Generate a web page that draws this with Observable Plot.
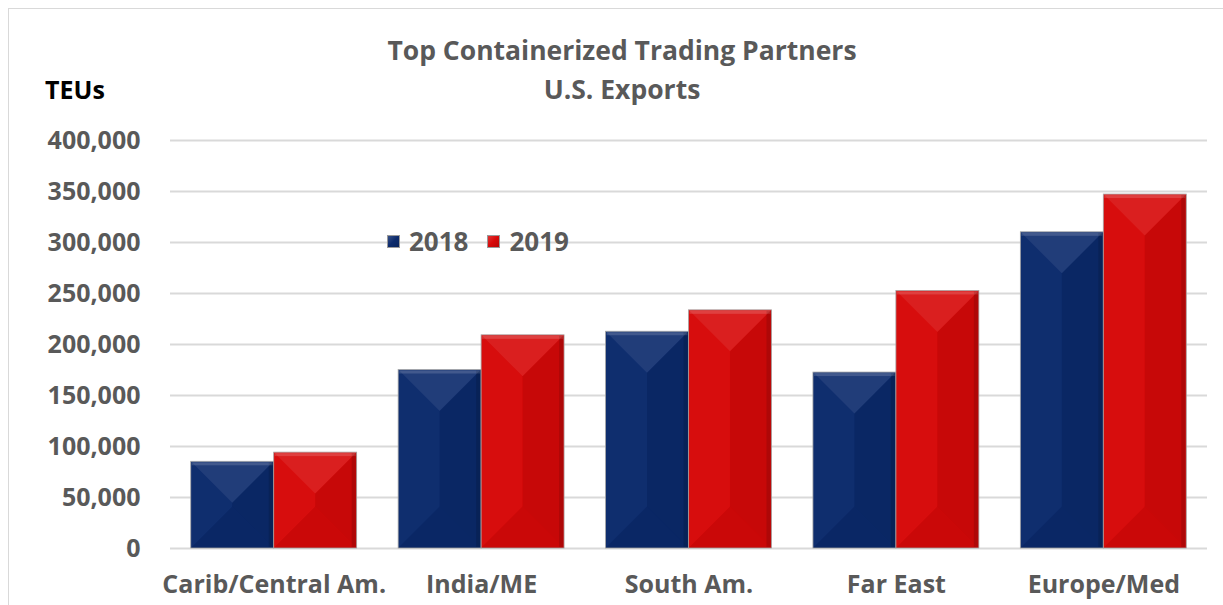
<!DOCTYPE html>
<html>
<head>
<meta charset="utf-8">
<script src="https://cdn.jsdelivr.net/npm/d3@7"></script>
<script src="https://cdn.jsdelivr.net/npm/@observablehq/plot@0.6"></script>
<style>
  html, body { margin: 0; padding: 0; background: #fff; }
  #wrap { position: relative; width: 1223px; height: 605px; overflow: hidden; font-family: "Open Sans", Lato, sans-serif; font-weight: 700; }
  #frame { position: absolute; left: 8px; top: 8px; width: 1260px; height: 640px; border: 1px solid #d9d9d9; box-sizing: border-box; }
  #title { position: absolute; left: 322px; top: 31px; width: 600px; text-align: center; color: #595959; font-size: 26.5px; line-height: 39px; }
  #unit { position: absolute; left: 45px; top: 72px; color: #000; font-size: 25px; }
  #legend { position: absolute; left: 387px; top: 223px; color: #595959; font-size: 26px; display: flex; align-items: center; }
  .sw { display: inline-block; width: 13px; height: 13px; margin-right: 9px; border: 1px solid #9a9a9a; box-sizing: border-box; }
  .lg { margin-right: 19px; }
  #chart { position: absolute; left: 0; top: 0; }
</style>
</head>
<body>
<div id="wrap">
  <div id="frame"></div>
  <div id="chart"></div>
  <div id="title">Top Containerized Trading Partners<br>U.S. Exports</div>
  <div id="unit">TEUs</div>
  <div id="legend"></div>
</div>
<script>
const categories = ["Carib/Central Am.", "India/ME", "South Am.", "Far East", "Europe/Med"];
const years = ["2018", "2019"];
const values2018 = [85000, 175000, 212500, 172500, 310000];
const values2019 = [94000, 209000, 233500, 252500, 347000];
const yTicks = [0, 50000, 100000, 150000, 200000, 250000, 300000, 350000, 400000];
const colors = ["#0b2a6c", "#d70909"];

const series = [values2018, values2019];
const data = categories.flatMap((c, i) => years.map((yr, j) => ({
  category: c, index: i, year: yr, s: j, value: series[j][i]
})));

const groupWidth = 0.8;
const half = groupWidth / 2;

const chart = Plot.plot({
  width: 1223,
  height: 605,
  marginTop: 140,
  marginBottom: 57,
  marginLeft: 170,
  marginRight: 16,
  style: { fontFamily: "'Open Sans', Lato, sans-serif", fontWeight: "700", fontSize: "25px", color: "#595959", background: "transparent", overflow: "visible" },
  x: { type: "linear", domain: [-0.5, categories.length - 0.5], ticks: categories.map((c, i) => i), tickFormat: i => categories[i], tickSize: 0, tickPadding: 27, label: null },
  y: { domain: [0, 400000], ticks: yTicks, tickFormat: d3.format(","), tickSize: 0, tickPadding: 30, label: null },
  color: { domain: years, range: colors },
  marks: [
    Plot.gridY(yTicks, { stroke: "#d9d9d9", strokeOpacity: 1, strokeWidth: 2 }),
    Plot.rectY(data, {
      x1: d => d.index - half + d.s * half,
      x2: d => d.index + d.s * half,
      y: "value",
      fill: "year",
      stroke: "#a6a6a6",
      strokeWidth: 0.8
    })
  ]
});
document.getElementById("chart").appendChild(chart);

// Subtle bevel shading (pyramid look) on top of the bars Plot rendered
const NS = "http://www.w3.org/2000/svg";
const rects = chart.querySelectorAll('g[aria-label="rect"] rect');
const bevel = document.createElementNS(NS, "g");
bevel.setAttribute("pointer-events", "none");
rects.forEach(r => {
  const x = +r.getAttribute("x"), y = +r.getAttribute("y");
  const w = +r.getAttribute("width"), h = +r.getAttribute("height");
  const d = Math.min(w / 2, h / 2);
  const faces = [
    [[x, y], [x + w, y], [x + w - d, y + d], [x + d, y + d], "#ffffff", 0.09],
    [[x, y + h], [x + w, y + h], [x + w - d, y + h - d], [x + d, y + h - d], "#000000", 0.06],
    [[x, y], [x + d, y + d], [x + d, y + h - d], [x, y + h], "#ffffff", 0.02],
    [[x + w, y], [x + w - d, y + d], [x + w - d, y + h - d], [x + w, y + h], "#000000", 0.07]
  ];
  faces.forEach(f => {
    const p = document.createElementNS(NS, "polygon");
    p.setAttribute("points", f.slice(0, 4).map(q => q.join(",")).join(" "));
    p.setAttribute("fill", f[4]);
    p.setAttribute("fill-opacity", f[5]);
    bevel.appendChild(p);
  });
  const strip = (sx, sy, sw, sh, col, op) => {
    const s = document.createElementNS(NS, "rect");
    s.setAttribute("x", sx); s.setAttribute("y", sy);
    s.setAttribute("width", Math.max(0, sw)); s.setAttribute("height", Math.max(0, sh));
    s.setAttribute("fill", col); s.setAttribute("fill-opacity", op);
    bevel.appendChild(s);
  };
  strip(x + 1, y + 1, w - 2, 3, "#ffffff", 0.15);
  strip(x + w - 5, y + 1, 4, h - 2, "#000000", 0.12);
});
chart.appendChild(bevel);

// Legend
const legend = document.getElementById("legend");
years.forEach((yr, j) => {
  const sw = document.createElement("span");
  sw.className = "sw";
  sw.style.background = `linear-gradient(135deg, rgba(255,255,255,0.18) 0%, rgba(255,255,255,0) 50%, rgba(0,0,0,0.15) 100%), ${colors[j]}`;
  const t = document.createElement("span");
  t.className = "lg";
  t.textContent = yr;
  legend.appendChild(sw);
  legend.appendChild(t);
});
</script>
</body>
</html>
